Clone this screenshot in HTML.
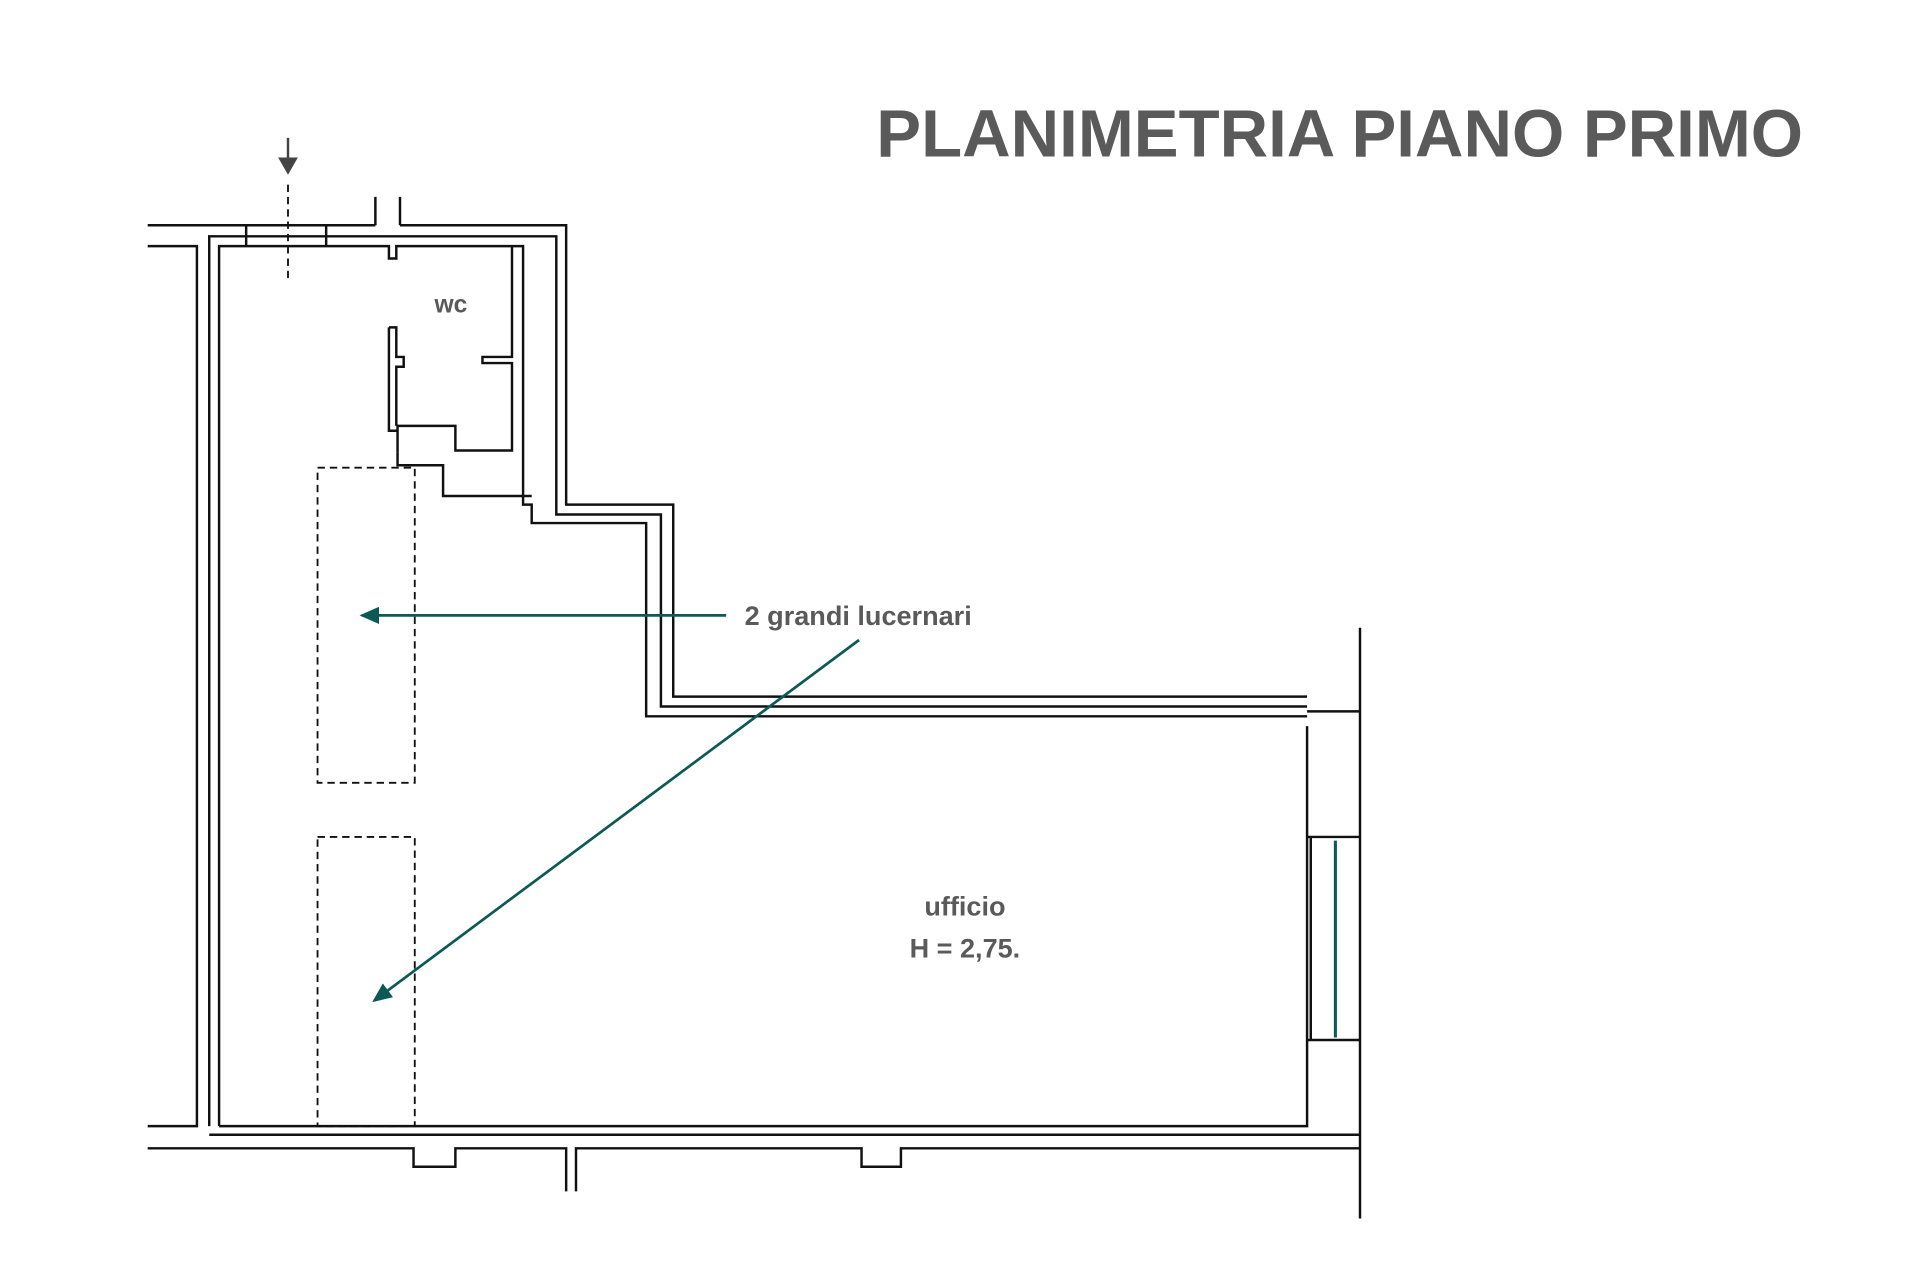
<!DOCTYPE html>
<html><head><meta charset="utf-8"><style>
html,body{margin:0;padding:0;background:#fff;width:1920px;height:1280px;overflow:hidden}
svg{display:block}
text{font-family:"Liberation Sans",sans-serif;font-weight:bold;fill:#5a5a5a}
</style></head><body>
<svg width="1920" height="1280" viewBox="0 0 1560 1040" xmlns="http://www.w3.org/2000/svg">
<defs>
<marker id="ah" markerWidth="16" markerHeight="14" refX="14" refY="7" orient="auto" markerUnits="userSpaceOnUse"><path d="M0,0 L16,7 L0,14 z" fill="#0b5a55"/></marker>
</defs>
<text x="712" y="127" font-size="54" textLength="753" lengthAdjust="spacingAndGlyphs">PLANIMETRIA PIANO PRIMO</text>
<g fill="none" stroke="#111" stroke-width="2">
<path d="M120,183 H305 M325,183 H460 V410 H547 V566 H1062"/>
<path d="M305,160 V183 M325,160 V183"/>
<path d="M120,200 H160 V915 H120"/>
<path d="M170,915 V192 H452 V418 H537 V574 H1062"/>
<path d="M178,915 V200 H316 V210 H322 V200 H425 V410 H432 V425 H525 V582 H1062"/>
<path d="M200,183 V200 M265,183 V200"/>
<path d="M416,200 V290 H392 V295 H416 V366 H370 V346 H323 V368 M316,266 V350 H323 M316,266 H322 V290 H328 V298 H322 V346"/>
<path d="M323,368 V378 H360 V403 H432"/>
<path d="M178,915 H1062 V590"/>
<path d="M170,922 H1105"/>
<path d="M120,933 H336 V948 H370 V933 H460 V968 M468,968 V933 H700 V948 H732 V933 H1105"/>
<path d="M1062,578 H1105 M1105,510 V990"/>
<path d="M1062,680 H1105 M1065,680 V845 M1062,845 H1105"/>
</g>
<line x1="1085" y1="683" x2="1085" y2="843" stroke="#0b5a55" stroke-width="2.5"/>
<g fill="none" stroke="#111" stroke-width="1.5" stroke-dasharray="6,4">
<rect x="258" y="380" width="79" height="256"/>
<rect x="258" y="680" width="79" height="235"/>
<line x1="234" y1="150" x2="234" y2="228"/>
</g>
<line x1="234" y1="112" x2="234" y2="132" stroke="#444" stroke-width="2"/>
<path d="M226,128 L242,128 L234,142 z" fill="#444"/>
<g stroke="#0b5a55" stroke-width="2.2">
<line x1="590" y1="500" x2="294" y2="500" marker-end="url(#ah)"/>
<line x1="698" y1="520" x2="304" y2="813" marker-end="url(#ah)"/>
</g>
<text x="605" y="508" font-size="22">2 grandi lucernari</text>
<text x="353" y="254" font-size="20">wc</text>
<text x="784" y="744" font-size="22" text-anchor="middle">ufficio</text>
<text x="784" y="778" font-size="22" text-anchor="middle">H = 2,75.</text>
</svg>
</body></html>
